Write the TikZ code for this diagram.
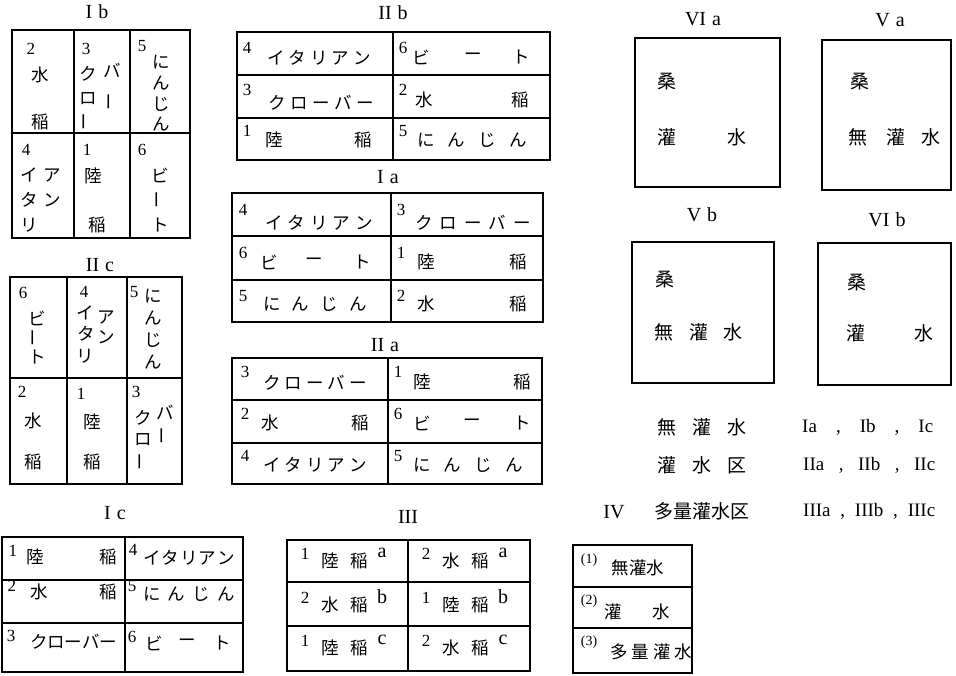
\documentclass[tikz,border=0pt]{standalone}
\usepackage{fontspec}
\setmainfont{Liberation Serif}
\newfontfamily\jp{Noto Sans CJK JP}
\newcount\tn
\newcommand\putt[3][jt]{\global\advance\tn by 1\relax\node[#1] (t\the\tn) at (#2) {#3};}
\newcommand\spr[2]{\makebox[#1pt][s]{#2}}
\newcommand\rt[2]{#1\hspace{6pt}#2}
\tikzset{
  box/.style={line width=1.3pt},
  jt/.style={font=\jp\fontsize{17.5}{17.5}\selectfont, inner sep=0pt},
  jb/.style={font=\jp\fontsize{19}{19}\selectfont, inner sep=0pt},
  vb/.style={jt, rotate=90},
  num/.style={font=\fontsize{17}{17}\selectfont, inner sep=0pt},
  lt/.style={font=\fontsize{20}{20}\selectfont, inner sep=0pt},
  sm/.style={font=\fontsize{14}{14}\selectfont, inner sep=0pt},
  ttl/.style={font=\fontsize{20}{20}\selectfont, inner sep=0pt},
  lg/.style={font=\fontsize{19}{19}\selectfont, inner sep=0pt, anchor=west},
}
\begin{document}
\begin{tikzpicture}[x=1pt,y=-1pt]
\useasboundingbox (0,0) rectangle (956,675);
\fill[white] (0,0) rectangle (956,675);

% ---------- I b ----------
\putt[ttl]{97,12}{\rt{I}{b}}
\draw[box] (12,30) rectangle (190,238);
\draw[box] (74,30) -- (74,238) (130,30) -- (130,238) (12,133) -- (190,133);
\putt[num]{31,49}{2}
\putt{40,75}{水}
\putt{40,122}{稲}
\putt[num]{86,49}{3}
\putt{88,74}{ク}
\putt{112,70}{バ}
\putt{88,99}{ロ}
\putt[vb]{112,102}{ー}
\putt[vb]{87,122}{ー}
\putt[num]{142,46}{5}
\putt{161,62}{に}
\putt{161,83}{ん}
\putt{161,104}{じ}
\putt{161,124}{ん}
\putt[num]{26,150}{4}
\putt{29,175}{イ}
\putt{29,200}{タ}
\putt{29,225}{リ}
\putt{52,175}{ア}
\putt{52,200}{ン}
\putt[num]{87,150}{1}
\putt{93,176}{陸}
\putt{97,225}{稲}
\putt[num]{142,150}{6}
\putt{160,175}{ビ}
\putt[vb]{160,200}{ー}
\putt{160,225}{ト}

% ---------- II c ----------
\putt[ttl]{100,265}{\rt{II}{c}}
\draw[box] (10,277) rectangle (182,484);
\draw[box] (67,277) -- (67,484) (127,277) -- (127,484) (10,378) -- (182,378);
\putt[num]{23,293}{6}
\putt{37,318}{ビ}
\putt[vb]{36,338}{ー}
\putt{37,357}{ト}
\putt[num]{84,292}{4}
\putt{85,313}{イ}
\putt{86,334}{タ}
\putt{85,356}{リ}
\putt{106,317}{ア}
\putt{106,337}{ン}
\putt[num]{134,292}{5}
\putt{153,296}{に}
\putt{153,318}{ん}
\putt{153,340}{じ}
\putt{153,362}{ん}
\putt[num]{22,392}{2}
\putt{33,421}{水}
\putt{33,462}{稲}
\putt[num]{81,394}{1}
\putt{92,422}{陸}
\putt{92,462}{稲}
\putt[num]{136,392}{3}
\putt{143,418}{ク}
\putt{165,412}{バ}
\putt{143,440}{ロ}
\putt[vb]{165,436}{ー}
\putt[vb]{143,462}{ー}

% ---------- I c ----------
\putt[ttl]{115,513}{\rt{I}{c}}
\draw[box] (2,537) rectangle (243,672);
\draw[box] (125,537) -- (125,672) (2,580) -- (243,580) (2,623) -- (243,623);
\putt[num]{13,551}{1}
\putt{35,557}{陸}
\putt{108,557}{稲}
\putt[num]{133,550}{4}
\putt{189,558}{\spr{92}{イ\hfil タ\hfil リ\hfil ア\hfil ン}}
\putt[num]{12,586}{2}
\putt{39,592}{水}
\putt{108,592}{稲}
\putt[num]{132,586}{5}
\putt{189,594}{\spr{92}{に\hfil ん\hfil じ\hfil ん}}
\putt[num]{11,636}{3}
\putt{73,642}{\spr{86}{ク\hfil ロ\hfil ー\hfil バ\hfil ー}}
\putt[num]{132,637}{6}
\putt{154,643}{ビ}
\putt{187,643}{ー}
\putt{222,643}{ト}

% ---------- II b ----------
\putt[ttl]{393,13}{\rt{II}{b}}
\draw[box] (237,32) rectangle (550,160);
\draw[box] (393,32) -- (393,160) (237,75) -- (550,75) (237,118) -- (550,118);
\putt[num]{247,48}{4}
\putt{319,58}{\spr{104}{イ\hfil タ\hfil リ\hfil ア\hfil ン}}
\putt[num]{403,48}{6}
\putt{421,57}{ビ}
\putt{473,57}{ー}
\putt{521,57}{ト}
\putt[num]{247,90}{3}
\putt{321,103}{\spr{106}{ク\hfil ロ\hfil ー\hfil バ\hfil ー}}
\putt[num]{403,90}{2}
\putt{424,100}{水}
\putt{520,100}{稲}
\putt[num]{247,131}{1}
\putt{274,140}{陸}
\putt{363,140}{稲}
\putt[num]{403,131}{5}
\putt{472,140}{\spr{110}{に\hfil ん\hfil じ\hfil ん}}

% ---------- I a ----------
\putt[ttl]{388,177}{\rt{I}{a}}
\draw[box] (232,193) rectangle (543,322);
\draw[box] (391,193) -- (391,322) (232,236) -- (543,236) (232,280) -- (543,280);
\putt[num]{243,210}{4}
\putt{319,223}{\spr{108}{イ\hfil タ\hfil リ\hfil ア\hfil ン}}
\putt[num]{401,210}{3}
\putt{473,223}{\spr{116}{ク\hfil ロ\hfil ー\hfil バ\hfil ー}}
\putt[num]{243,253}{6}
\putt{269,262}{ビ}
\putt{314,262}{ー}
\putt{362,262}{ト}
\putt[num]{401,253}{1}
\putt{426,262}{陸}
\putt{518,262}{稲}
\putt[num]{243,296}{5}
\putt{315,304}{\spr{104}{に\hfil ん\hfil じ\hfil ん}}
\putt[num]{401,296}{2}
\putt{426,304}{水}
\putt{518,304}{稲}

% ---------- II a ----------
\putt[ttl]{385,345}{\rt{II}{a}}
\draw[box] (232,358) rectangle (542,484);
\draw[box] (388,358) -- (388,484) (232,400) -- (542,400) (232,443) -- (542,443);
\putt[num]{245,372}{3}
\putt{315,383}{\spr{104}{ク\hfil ロ\hfil ー\hfil バ\hfil ー}}
\putt[num]{398,372}{1}
\putt{422,382}{陸}
\putt{522,382}{稲}
\putt[num]{245,414}{2}
\putt{270,423}{水}
\putt{360,423}{稲}
\putt[num]{398,414}{6}
\putt{422,423}{ビ}
\putt{472,423}{ー}
\putt{522,423}{ト}
\putt[num]{245,456}{4}
\putt{315,465}{\spr{104}{イ\hfil タ\hfil リ\hfil ア\hfil ン}}
\putt[num]{398,456}{5}
\putt{468,465}{\spr{110}{に\hfil ん\hfil じ\hfil ん}}

% ---------- III ----------
\putt[ttl]{408,517}{III}
\draw[box] (287,540) rectangle (530,671);
\draw[box] (408,540) -- (408,671) (287,582) -- (530,582) (287,626) -- (530,626);
\putt[num]{305,554}{1}
\putt{330,561}{陸}
\putt{359,561}{稲}
\putt[lt]{382,553}{a}
\putt[num]{426,554}{2}
\putt{451,561}{水}
\putt{480,561}{稲}
\putt[lt]{503,553}{a}
\putt[num]{305,598}{2}
\putt{330,605}{水}
\putt{359,605}{稲}
\putt[lt]{382,597}{b}
\putt[num]{426,598}{1}
\putt{451,605}{陸}
\putt{480,605}{稲}
\putt[lt]{503,597}{b}
\putt[num]{305,641}{1}
\putt{330,648}{陸}
\putt{359,648}{稲}
\putt[lt]{382,640}{c}
\putt[num]{426,641}{2}
\putt{451,648}{水}
\putt{480,648}{稲}
\putt[lt]{503,640}{c}

% ---------- VI a / V a ----------
\putt[ttl]{703,19}{\rt{VI}{a}}
\draw[box] (635,38) rectangle (780,187);
\putt[jb]{667,82}{桑}
\putt[jb]{667,137}{灌}
\putt[jb]{737,137}{水}
\putt[ttl]{890,20}{\rt{V}{a}}
\draw[box] (822,40) rectangle (951,190);
\putt[jb]{860,82}{桑}
\putt[jb]{858,137}{無}
\putt[jb]{896,137}{灌}
\putt[jb]{931,137}{水}

% ---------- V b / VI b ----------
\putt[ttl]{702,215}{\rt{V}{b}}
\draw[box] (632,242) rectangle (774,383);
\putt[jb]{665,280}{桑}
\putt[jb]{664,332}{無}
\putt[jb]{699,332}{灌}
\putt[jb]{733,332}{水}
\putt[ttl]{887,220}{\rt{VI}{b}}
\draw[box] (818,243) rectangle (951,385);
\putt[jb]{857,283}{桑}
\putt[jb]{856,333}{灌}
\putt[jb]{924,333}{水}

% ---------- legend ----------
\putt[jb]{702,427}{\spr{90}{無\hfil 灌\hfil 水}}
\putt[lg]{802,427}{\spr{131}{Ia\hfil ,\hfil Ib\hfil ,\hfil Ic}}
\putt[jb]{702,465}{\spr{90}{灌\hfil 水\hfil 区}}
\putt[lg]{803,465}{\spr{132}{IIa\hfil ,\hfil IIb\hfil ,\hfil IIc}}
\putt[ttl]{614,512}{IV}
\putt[jb]{702,511}{多量灌水区}
\putt[lg]{803,511}{\spr{132}{IIIa\hfil ,\hfil IIIb\hfil ,\hfil IIIc}}

% ---------- IV ----------
\draw[box] (573,545) rectangle (692,673);
\draw[box] (573,587) -- (692,587) (573,628) -- (692,628);
\putt[sm]{589,560}{(1)}
\putt{638,568}{無灌水}
\putt[sm]{589,601}{(2)}
\putt{613,612}{灌}
\putt{661,612}{水}
\putt[sm]{589,642}{(3)}
\putt{651,652}{\spr{82}{多\hfil 量\hfil 灌\hfil 水}}
\end{tikzpicture}
\end{document}
